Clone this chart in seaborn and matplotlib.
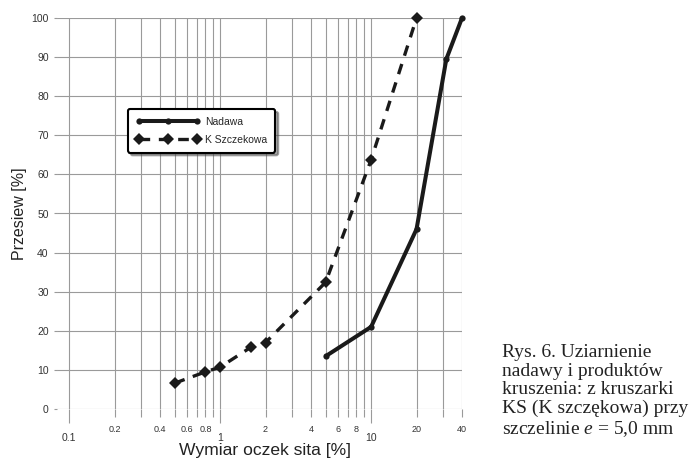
import numpy as np
import pandas as pd
import matplotlib
matplotlib.use("Agg")
import matplotlib.pyplot as plt
import seaborn as sns
from matplotlib.ticker import FixedLocator, NullFormatter

# ---- data ----
nadawa_x = [5.0, 10.0, 20.0, 31.5, 40.0]
nadawa_y = [13.5, 21.0, 46.0, 89.5, 100.0]
ks_x = [0.5, 0.8, 1.0, 1.6, 2.0, 5.0, 10.0, 20.0]
ks_y = [6.6, 9.5, 10.7, 15.8, 17.0, 32.4, 63.7, 100.0]
series_names = ["Nadawa", "K Szczekowa"]
major_ticks = [0.1, 1, 10]
minor_ticks = [0.2, 0.4, 0.6, 0.8, 2, 4, 6, 8, 20, 40]
y_ticks = list(range(0, 101, 10))
xlabel = "Wymiar oczek sita [%]"
ylabel = "Przesiew [%]"
caption = ("Rys. 6. Uziarnienie\nnadawy i produktów\nkruszenia: z kruszarki\n"
           "KS (K szczękowa) przy\nszczelinie $\\it{e}$ = 5,0 mm")

sns.set_theme(style="white")
plt.rcParams['font.family'] = ['Liberation Sans', 'DejaVu Sans']
plt.rcParams['mathtext.fontset'] = 'custom'
plt.rcParams['mathtext.it'] = 'Liberation Serif:italic'
plt.rcParams['mathtext.rm'] = 'Liberation Serif'

fig = plt.figure(figsize=(6.94, 4.61), dpi=100)
ax = fig.add_axes([57/694, 1-409/461, (462-57)/694, (409-18)/461])

df_n = pd.DataFrame({"x": nadawa_x, "y": nadawa_y})
df_k = pd.DataFrame({"x": ks_x, "y": ks_y})

sns.lineplot(data=df_n, x="x", y="y", ax=ax, color="#1a1a1a", linewidth=2.9,
             marker="o", markersize=4.5, markeredgewidth=0, label=series_names[0],
             sort=False, clip_on=False)
sns.lineplot(data=df_k, x="x", y="y", ax=ax, color="#1a1a1a", linewidth=2.4,
             marker="D", markersize=6.5, markeredgewidth=0, label=series_names[1],
             sort=False, clip_on=False)
lines = ax.get_lines()
lines[1].set_dashes((3.2, 2.6))
lines[0].set_solid_capstyle("butt")
lines[1].set_dash_capstyle("butt")

ax.set_xscale("log")
ax.set_xlim(0.0832, 40)
ax.set_ylim(0, 100)

# grid
grid_x = [v * 10**d for d in (-1, 0) for v in range(1, 10)] + [10, 20, 30, 40]
for gx in grid_x:
    ax.axvline(gx, color="#9a9a9a", lw=0.8, zorder=0)
for gy in y_ticks:
    ax.axhline(gy, color="#9a9a9a", lw=0.8, zorder=0)

for s in ax.spines.values():
    s.set_visible(False)

ax.xaxis.set_major_locator(FixedLocator(major_ticks))
ax.xaxis.set_minor_locator(FixedLocator([v for v in grid_x if v not in major_ticks]))
ax.set_xticklabels(["0.1", "1", "10"])
ax.xaxis.set_minor_formatter(NullFormatter())
ax.tick_params(axis="x", which="major", length=10, width=0.8, color="#9a9a9a",
               labelsize=7.5, pad=7, labelcolor="#333333", bottom=True)
ax.tick_params(axis="x", which="minor", length=6, width=0.8, color="#9a9a9a", bottom=True)
# minor labels as text at data x positions
for mt in minor_ticks:
    ax.text(mt, -4.0, f"{mt:g}", transform=ax.transData,
            ha="center", va="top", fontsize=6.5, color="#333333", clip_on=False)

ax.set_yticks(y_ticks)
ax.set_yticklabels([str(v) for v in y_ticks])
ax.tick_params(axis="y", length=2, width=0.8, color="#9a9a9a", labelsize=7.5, pad=4,
               labelcolor="#333333", left=True)

ax.set_xlabel(xlabel, fontsize=12.6, color="#222222")
ax.xaxis.set_label_coords(0.514, -0.088)
ax.set_ylabel(ylabel, fontsize=11.5, color="#222222", labelpad=3)

leg = ax.legend(loc="upper left", bbox_to_anchor=(0.175, 0.767), borderaxespad=0,
                fontsize=7.5, numpoints=3, handlelength=6.2, fancybox=True, shadow=True,
                frameon=True, framealpha=1, edgecolor="black", borderpad=0.75,
                labelspacing=0.75, handletextpad=0.5)
leg.get_frame().set_linewidth(1.5)

fig.text(502/694, 1-344/461, caption, ha="left", va="top", fontsize=14,
         family="Liberation Serif", color="#222222", linespacing=1.12)

fig.savefig("out.png", dpi=100)
